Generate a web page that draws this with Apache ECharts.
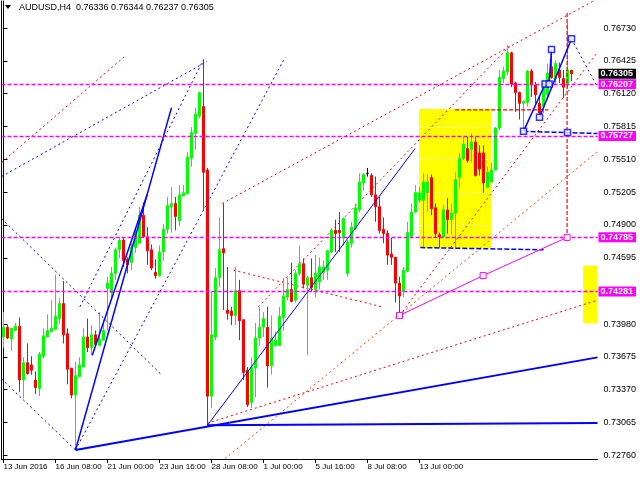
<!DOCTYPE html>
<html><head><meta charset="utf-8">
<script src="https://cdn.jsdelivr.net/npm/echarts@6/dist/echarts.min.js"></script>
<style>html,body{margin:0;padding:0;background:#fff}#c{width:640px;height:480px}</style>
</head><body><div id="c"></div>
<script>
// ---- data ----
const xLabels = ['13 Jun 2016','16 Jun 08:00','21 Jun 00:00','23 Jun 16:00','28 Jun 08:00','1 Jul 00:00','5 Jul 16:00','8 Jul 08:00','13 Jul 00:00'];
const labelStep = 13;
const slotCount = 149;
const opens  = [.7386,.7395,.7384,.7392,.7396,.7346,.7362,.7360,.7346,.7338,.7368,.7386,.7391,.7393,.7403,.7417,.7389,.7357,.7332,.7349,.7358,.7386,.7376,.7388,.7378,.7383,.7431,.7427,.7445,.7467,.7476,.7458,.7455,.7469,.7473,.7499,.7479,.7467,.7446,.7443,.7465,.7486,.7507,.7510,.7494,.7517,.7519,.7552,.7575,.7591,.7600,.7541,.7331,.7386,.7441,.7468,.7411,.7410,.7406,.7429,.7402,.7355,.7325,.7357,.7385,.7395,.7395,.7359,.7378,.7378,.7404,.7423,.7430,.7420,.7445,.7454,.7434,.7441,.7430,.7437,.7446,.7448,.7465,.7485,.7485,.7478,.7445,.7473,.7487,.7504,.7529,.7538,.7536,.7518,.7507,.7486,.7482,.7463,.7460,.7436,.7428,.7447,.7479,.7502,.7513,.7513,.7520,.7534,.7506,.7481,.7479,.7504,.7495,.7501,.7534,.7552,.7561,.7560,.7567,.7557,.7557,.7525,.7530,.7541,.7580,.7626,.7632,.7650,.7622,.7613,.7603,.7604,.7633,.7620,.7603,.7600,.7611,.7637,.7626,.7634,.7626,.7620,.76336];
const closes = [.7395,.7385,.7394,.7396,.7346,.7362,.7352,.7355,.7339,.7370,.7387,.7392,.7394,.7405,.7417,.7388,.7356,.7332,.7350,.7360,.7386,.7376,.7388,.7379,.7384,.7392,.7436,.7445,.7467,.7476,.7457,.7453,.7469,.7482,.7499,.7479,.7466,.7450,.7443,.7465,.7486,.7508,.7510,.7498,.7518,.7520,.7553,.7576,.7593,.7613,.7539,.7331,.7388,.7441,.7467,.7464,.7408,.7406,.7429,.7401,.7353,.7323,.7358,.7385,.7395,.7403,.7359,.7385,.7383,.7405,.7424,.7430,.7419,.7445,.7454,.7435,.7441,.7432,.7445,.7451,.7451,.7466,.7485,.7482,.7483,.7496,.7474,.7488,.7506,.7530,.7537,.7538,.7518,.7507,.7485,.7482,.7462,.7460,.7436,.7424,.7448,.7483,.7502,.7520,.7520,.7530,.7530,.7505,.7482,.7479,.7504,.7495,.7501,.7532,.7552,.7565,.7550,.7567,.7536,.7542,.7529,.7539,.7541,.7580,.7627,.7633,.7650,.7621,.7613,.7603,.7605,.7633,.7620,.7611,.7594,.7622,.7631,.7627,.7640,.7627,.7618,.7634,.76305];
const lows   = [.7376,.7384,.7373,.7392,.7335,.7329,.7351,.7351,.7333,.7331,.7366,.7386,.7391,.7393,.7398,.7380,.7342,.7329,.7281,.7349,.7358,.7372,.7369,.7378,.7378,.7383,.7392,.7420,.7439,.7459,.7451,.7445,.7448,.7464,.7473,.7478,.7453,.7448,.7440,.7442,.7457,.7482,.7483,.7485,.7489,.7517,.7519,.7544,.7560,.7589,.7504,.7304,.7320,.7383,.7432,.7411,.7402,.7397,.7397,.7383,.7346,.7321,.7320,.7330,.7378,.7386,.7339,.7351,.7377,.7378,.7392,.7420,.7418,.7418,.7443,.7431,.7369,.7428,.7423,.7430,.7439,.7439,.7464,.7465,.7465,.7471,.7442,.7469,.7485,.7502,.7522,.7535,.7516,.7493,.7482,.7473,.7453,.7453,.7418,.7408,.7423,.7446,.7478,.7501,.7511,.7469,.7502,.7499,.7478,.7469,.7478,.7482,.7481,.7469,.7524,.7550,.7548,.7548,.7535,.7536,.7520,.7524,.7529,.7541,.7578,.7622,.7629,.7618,.7595,.7588,.7579,.7600,.7609,.7603,.7590,.7594,.7609,.7626,.7620,.7622,.7608,.7617,.76237];
const highs  = [.7409,.7397,.7394,.7399,.7404,.7367,.7380,.7368,.7354,.7372,.7394,.7407,.7420,.7444,.7422,.7438,.7394,.7357,.7363,.7367,.7394,.7403,.7397,.7392,.7409,.7402,.7442,.7451,.7469,.7479,.7479,.7460,.7473,.7488,.7507,.7511,.7488,.7472,.7458,.7471,.7491,.7516,.7525,.7516,.7527,.7527,.7558,.7581,.7599,.7614,.7644,.7543,.7428,.7450,.7497,.7510,.7451,.7414,.7451,.7439,.7402,.7358,.7367,.7399,.7414,.7409,.7414,.7406,.7391,.7414,.7441,.7441,.7455,.7448,.7471,.7459,.7443,.7459,.7462,.7460,.7457,.7467,.7487,.7495,.7502,.7497,.7476,.7493,.7510,.7538,.7538,.7543,.7538,.7535,.7516,.7497,.7485,.7478,.7460,.7442,.7451,.7493,.7510,.7527,.7525,.7538,.7537,.7537,.7510,.7483,.7509,.7515,.7510,.7539,.7557,.7572,.7572,.7575,.7572,.7564,.7564,.7544,.7548,.7581,.7634,.7637,.7657,.7651,.7623,.7614,.7606,.7634,.7635,.7623,.7609,.7625,.7640,.7651,.7643,.7641,.7634,.7678,.76344];
const yTicks = [0.76730,0.76425,0.76120,0.75815,0.75510,0.75205,0.74900,0.74595,0.73980,0.73675,0.73370,0.73065,0.72760];
const levelLines = [0.76207,0.75727,0.74785,0.74281];
const lastPrice = 0.76305;
const titleText = 'AUDUSD,H4  0.76336 0.76344 0.76237 0.76305';
// drawn objects, in (bar index, price)
const blueThick = [
  [[18,0.7281],[148.5,0.7367]],
  [[51,0.7304],[148.5,0.7306]]
];
const blueMedium = [
  [[18,0.7281],[42,0.7599]],
  [[22.2,0.7369],[35.9,0.7518]],
  [[130,0.7577],[135.4,0.7621]],
  [[136.4,0.7621],[137,0.7653]],
  [[134,0.7590],[142,0.7663]]
];
const blueThin = [
  [[51,0.7304],[102.9,0.7561]]
];
const blueDotted = [
  [[-0.5,0.7535],[50.9,0.7642]],
  [[18,0.7281],[70,0.7643]],
  [[19.1,0.7414],[49.9,0.7643]],
  [[-0.5,0.7496],[39.2,0.7352]],
  [[-0.5,0.7347],[18,0.7281]],
  [[142,0.7663],[148.5,0.7618]]
];
const blueDashed = [
  [[130,0.7577],[148.5,0.7575]],
  [[104.2,0.7469],[135,0.7467]]
];
const blueSquares = [[130,0.7577],[134,0.7590],[135.4,0.7621],[136.4,0.7621],[137,0.7653],[142,0.7663],[141,0.7576]];
const magentaPath = [[99,0.7406],[119.9,0.7443],[140.9,0.74785]];
const redDotted = [
  [[54.7,0.7510],[148.4,0.7700]],
  [[63.7,0.7414],[126.7,0.7657]],
  [[57.5,0.7448],[94.6,0.7414]],
  [[50.9,0.73057],[148.4,0.7420]],
  [[-0.5,0.7548],[30.4,0.7647]],
  [[99,0.7406],[148.4,0.7650]]
];
const orangeDotted = [
  [[55.4,0.7273],[148.4,0.7558]]
];
const redDashed = [
  [[140.9,0.7687],[140.9,0.74785]],
  [[112.9,0.7597],[136.2,0.7597]]
];
const yellowRects = [[103.9,0.75977,121.9,0.74686],[144.9,0.74522,148.5,0.73987]];

// ---- chart ----
const FONT = "'Liberation Sans', Arial, sans-serif";
const categories = Array.from({length: slotCount}, (_, i) =>
  (i % labelStep === 0 && i / labelStep < xLabels.length) ? xLabels[i / labelStep] : '');
const candles = opens.map((o, i) => [o, closes[i], lows[i], highs[i]]);
const yMin = 0.72726, yMax = 0.76981;
const boxLabel = (v, bg) => ({show: true, position: 'end', distance: 1, formatter: v.toFixed(5), backgroundColor: bg,
  color: '#ffffff', fontFamily: FONT, fontSize: 9, fontWeight: 'bold', padding: [1, 3, 0, 2]});

const series = [];
series.push({
  type: 'custom', xAxisIndex: 1, yAxisIndex: 0, z: 1, silent: true, clip: true,
  data: yellowRects,
  renderItem: (params, api) => {
    const x1 = api.value(0), y1 = api.value(1), x2 = api.value(2), y2 = api.value(3);
    const p1 = api.coord([x1, y1]), p2 = api.coord([x2, y2]);
    const children = [{type: 'rect', shape: {x: p1[0], y: p1[1], width: p2[0]-p1[0], height: p2[1]-p1[1]}, style: {fill: '#ffff00'}}];
    yTicks.forEach(t => {
      if (t < y1 && t > y2) {
        const py = Math.round(api.coord([x1, t])[1]) + 0.5;
        children.push({type: 'line', shape: {x1: p1[0], y1: py, x2: p2[0], y2: py}, style: {stroke: '#ffffff', lineWidth: 1, lineDash: [3, 3]}});
      }
    });
    return {type: 'group', children};
  }
});
series.push({
  type: 'candlestick', xAxisIndex: 0, yAxisIndex: 0, z: 3,
  barWidth: 2,
  data: candles,
  itemStyle: {color: '#00ff00', color0: '#ff0000', borderColor: '#00ff00', borderColor0: '#ff0000', borderColorDoji: '#000000', borderWidth: 1}
});
function addLines(list, color, type, width, z) {
  list.forEach(pts => series.push({
    type: 'line', xAxisIndex: 1, yAxisIndex: 0, data: pts, showSymbol: false, silent: true, z: z,
    lineStyle: {color, type, width}, clip: true
  }));
}
addLines(orangeDotted, '#ff4500', [2, 3], 1, 2);
addLines(redDotted, '#ff0000', [2, 3], 1, 2);
addLines(redDashed, '#ff0000', [4, 2], 1.2, 4);
addLines(blueDotted, '#0000ff', [2, 3], 1, 4);
addLines(blueDashed, '#0000ff', [5, 2], 1.5, 4);
addLines(blueThin, '#0000ff', 'solid', 1, 4);
addLines(blueMedium, '#0000ff', 'solid', 1.5, 4);
addLines(blueThick, '#0000ff', 'solid', 2, 4);
series.push({
  type: 'line', xAxisIndex: 1, yAxisIndex: 0, data: magentaPath, silent: true, z: 5,
  lineStyle: {color: '#ff00ff', width: 1}, symbol: 'rect', symbolSize: 6, showSymbol: true,
  itemStyle: {color: '#ffffff', borderColor: '#ff00ff', borderWidth: 1},
  markLine: {
    silent: true, symbol: ['none', 'none'], animation: false, precision: 5,
    data: levelLines.map(v => ({yAxis: v, lineStyle: {color: '#ff00ff', type: [4, 2], width: 1.3}, label: boxLabel(v, '#ff00ff')}))
  }
});
series.push({
  type: 'line', xAxisIndex: 1, yAxisIndex: 0, data: [], silent: true, z: 6, showSymbol: false,
  markLine: {
    silent: true, symbol: ['none', 'none'], animation: false, precision: 5,
    data: [{yAxis: lastPrice, lineStyle: {color: 'rgba(0,0,0,0)', width: 1}, label: boxLabel(lastPrice, '#000000')}]
  }
});
series.push({
  type: 'scatter', xAxisIndex: 1, yAxisIndex: 0, data: blueSquares, silent: true, z: 5,
  symbol: 'rect', symbolSize: 6, itemStyle: {color: '#ffffff', borderColor: '#0000ff', borderWidth: 1.5}
});

const chart = echarts.init(document.getElementById('c'), null, {renderer: 'canvas'});
chart.setOption({
  animation: false,
  backgroundColor: '#ffffff',
  grid: {left: 1.5, right: 42.5, top: 1, bottom: 21, containLabel: false},
  xAxis: [{
    type: 'category', data: categories, boundaryGap: true,
    axisLine: {show: true, lineStyle: {color: '#000', width: 1}},
    axisTick: {show: true, interval: (i, v) => v !== '', alignWithLabel: true, length: 4, lineStyle: {color: '#000'}},
    axisLabel: {show: true, interval: (i, v) => v !== '', align: 'left', margin: 4, color: '#000', fontFamily: FONT, fontSize: 8},
    splitLine: {show: false}
  }, {
    type: 'value', min: -0.5, max: slotCount - 0.5, show: false
  }],
  yAxis: [{
    type: 'value', position: 'right', min: yMin, max: yMax,
    axisLine: {show: true, lineStyle: {color: '#000', width: 1}},
    axisTick: {show: true, length: 4, customValues: yTicks, lineStyle: {color: '#000'}},
    axisLabel: {show: true, customValues: yTicks, margin: 6, color: '#000', fontFamily: FONT, fontSize: 9, formatter: v => v.toFixed(5)},
    splitLine: {show: false}
  }, {
    type: 'value', position: 'left', min: yMin, max: yMax,
    axisLine: {show: true, onZero: false, lineStyle: {color: '#000', width: 1}},
    axisTick: {show: false}, axisLabel: {show: false}, splitLine: {show: false}
  }],
  graphic: [
    {type: 'polygon', shape: {points: [[5, 5], [11, 5], [8, 9]]}, style: {fill: '#000'}},
    {type: 'text', left: 19, top: 3, style: {text: titleText, fill: '#000', font: '9px ' + FONT}}
  ],
  series
});
</script></body></html>
